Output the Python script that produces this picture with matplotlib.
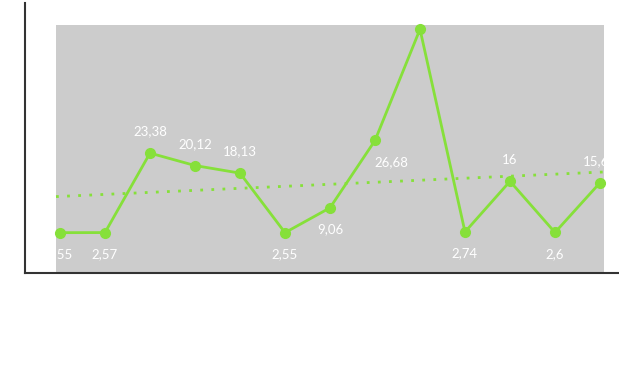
import numpy as np
import matplotlib
matplotlib.use("Agg")
import matplotlib.pyplot as plt
from matplotlib.patches import Rectangle

# data
x_idx = list(range(13))
values = [2.55, 2.57, 23.38, 20.12, 18.13, 2.55, 9.06, 26.68, 55.8, 2.74, 16, 2.6, 15.62]

# label placement (style): +1 above, -1 below, with x offset in points
label_side = [-1, -1, 1, 1, 1, -1, -1, -1, 1, -1, 1, -1, 1]
label_dx = [0, 0, 0, 0, 0, 0, 0, 12, 0, 0, 0, 0, 0]

green = "#86e03a"
grey = "#cccccc"

fig = plt.figure(figsize=(6.19, 3.75), dpi=100)
W, H = 619, 375
ax = fig.add_axes([25 / W, 1 - 273 / H, (618 - 25) / W, (273 - 3) / H])
ax.set_facecolor("white")

# y scale: ~3.82 px per unit, zero at ~242.4 px
ppu = 3.82
y0 = 242.4
ax.set_ylim(-(273 - y0) / ppu, (y0 - 3) / ppu)
ax.set_xlim(-(60 - 25) / 45, 12 + (618 - 600) / 45)

rect = Rectangle((-4 / 45, ax.get_ylim()[0]), 12 + 8 / 45, (y0 - 25) / ppu - ax.get_ylim()[0],
                 facecolor=grey, edgecolor="none", zorder=0)
ax.add_patch(rect)

# trend line
coef = np.polyfit(x_idx, values, 1)
tx = np.array([-4 / 45, 12 + 4 / 45])
ax.plot(tx, np.polyval(coef, tx), linestyle=(0, (1, 3)), color=green, linewidth=2, zorder=2)

ax.plot(x_idx, values, color=green, linewidth=2, marker="o", markersize=7, zorder=3)

for xi, v, s, dx in zip(x_idx, values, label_side, label_dx):
    txt = ("%g" % v).replace(".", ",")
    t = ax.annotate(txt, (xi, v), xytext=(dx, 15.5 * s), textcoords="offset points",
                    ha="center", va="center", color="white", fontsize=9.5,
                    fontfamily="Lato", fontweight="normal", zorder=4)
    t.set_clip_path(rect)

for sp in ["top", "right"]:
    ax.spines[sp].set_visible(False)
for sp in ["left", "bottom"]:
    ax.spines[sp].set_color("#333333")
    ax.spines[sp].set_linewidth(1.5)
ax.set_xticks([])
ax.set_yticks([])

fig.savefig("out.png", dpi=100)
